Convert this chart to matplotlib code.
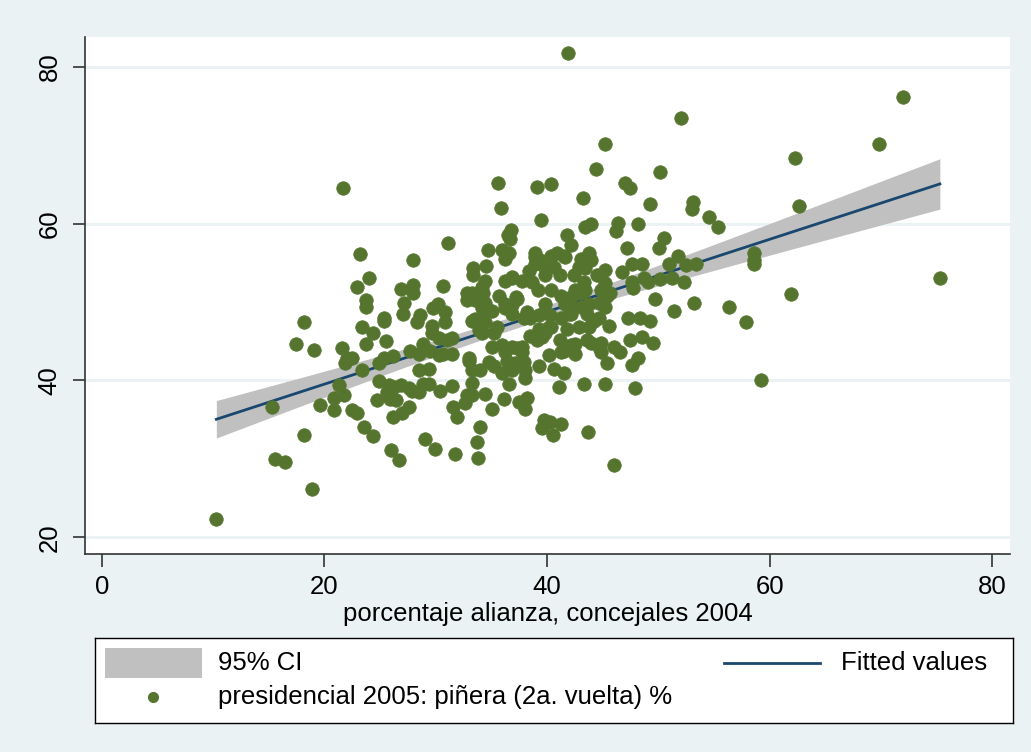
import numpy as np
import matplotlib
matplotlib.use("Agg")
import matplotlib.pyplot as plt
from matplotlib.patches import Rectangle

plt.rcParams['font.family'] = ['Liberation Sans', 'DejaVu Sans']

# porcentaje alianza, concejales 2004 (x) / presidencial 2005 pinera 2a vuelta % (y)
x_outer = [10.3, 15.3, 15.6, 16.5, 18.9, 18.2, 17.5, 18.2, 19.1, 21.7, 19.6, 21.3, 21.8, 20.9,
           20.9, 21.6, 22.0, 21.9, 41.9, 52.0, 72.0, 69.8, 75.3, 62.3, 62.6, 61.9, 59.2, 57.9,
           56.4, 54.6, 55.4, 58.6, 58.6, 58.6, 53.1, 53.0, 53.2]
y_outer = [22.3, 36.6, 30.0, 29.6, 26.2, 33.0, 44.7, 47.4, 43.9, 64.5, 36.9, 39.4, 38.1, 37.7,
           36.2, 44.1, 42.9, 42.2, 81.7, 73.5, 76.1, 70.1, 53.1, 68.4, 62.2, 51.0, 40.1, 47.5,
           49.4, 60.8, 59.5, 56.2, 55.4, 54.9, 62.8, 61.9, 49.9]

x_right = [45.2, 44.4, 50.2, 47.0, 47.5, 49.3, 46.4, 46.2, 48.2, 44.0, 50.5, 50.1, 47.2, 51.8,
           51.0, 53.4, 52.5, 45.2, 47.6, 48.5, 46.7, 44.5, 48.7, 49.1, 50.2, 51.2, 52.3, 47.6,
           47.7, 45.2, 44.9, 45.7, 49.7, 44.7, 51.4, 47.3, 48.4, 49.3, 44.7, 45.6,
           44.0, 44.9, 47.5, 48.5, 49.5, 44.9, 46.0, 46.6, 45.4, 47.6, 48.2, 45.2, 47.9, 43.7, 46.0]
y_right = [70.2, 66.9, 66.6, 65.2, 64.5, 62.5, 60.1, 59.0, 60.0, 60.0, 58.1, 56.9, 56.9, 55.9,
           54.9, 54.8, 54.7, 54.1, 54.9, 54.8, 53.8, 53.4, 53.1, 52.5, 52.9, 53.1, 52.5, 52.5,
           51.8, 52.4, 51.5, 51.2, 50.4, 49.9, 48.8, 47.9, 48.0, 47.6, 48.0, 47.0,
           44.8, 44.8, 45.2, 45.5, 44.8, 43.6, 44.3, 43.6, 42.2, 42.0, 42.8, 39.6, 39.0, 33.4, 29.2]

x_upper = [35.6, 39.1, 40.4, 35.9, 43.2, 39.5, 36.8, 36.5, 36.7, 43.4, 41.8, 42.2, 34.7, 36.0,
           36.6, 36.2, 38.9, 38.9, 40.4, 40.9, 41.6, 43.8, 43.1, 34.5, 40.6, 41.2, 38.4, 43.4,
           33.4, 34.4, 36.9, 36.2, 37.8, 38.7, 39.8, 39.8, 42.4, 43.3, 33.3, 34.2, 34.0, 35.7,
           36.2, 37.2, 39.2, 40.4, 41.3, 42.2, 43.4, 43.1, 39.8, 41.6, 42.2, 43.1, 34.2, 35.1,
           36.2, 38.2, 38.5, 37.9, 40.3, 41.3, 42.2, 43.6, 44.2, 33.5, 34.4, 35.5, 36.9, 39.3,
           40.4, 41.8, 42.9, 43.8]
y_upper = [65.2, 64.6, 65.0, 62.0, 63.3, 60.5, 59.2, 58.6, 58.0, 59.5, 58.5, 57.2, 56.6, 56.6,
           56.3, 55.5, 55.7, 54.9, 55.9, 56.2, 55.7, 56.3, 55.5, 54.6, 54.4, 53.4, 54.0, 54.3,
           53.4, 52.7, 53.1, 52.7, 52.7, 52.5, 54.3, 53.4, 53.4, 52.5, 51.2, 51.9, 50.6, 50.8,
           49.8, 50.6, 51.5, 51.5, 50.8, 50.6, 51.5, 51.1, 49.8, 49.8, 49.3, 49.3, 49.2, 48.9,
           49.2, 48.7, 48.0, 48.0, 48.3, 48.0, 48.5, 48.5, 47.6, 47.8, 47.4, 46.8, 48.5, 46.6,
           46.8, 46.6, 46.8, 46.8]

x_center = [34.3, 34.4, 36.9, 34.3, 39.3, 37.3, 36.9, 39.4, 38.9, 41.5, 42.9, 44.0, 42.5, 42.0,
            43.8, 45.2, 45.4, 41.5, 42.5, 44.7, 39.6, 35.2, 36.9, 37.8, 33.9, 31.5, 30.3, 33.0,
            34.8]
y_center = [51.2, 49.9, 49.6, 47.9, 48.3, 50.4, 53.2, 55.3, 56.2, 55.9, 54.4, 55.3, 51.5, 48.5,
            49.8, 49.3, 50.8, 43.8, 44.7, 44.2, 45.5, 46.0, 44.2, 44.2, 46.4, 45.4, 43.2, 42.8,
            42.3]

x_lower = [34.2, 35.1, 36.0, 36.2, 37.3, 37.8, 38.5, 39.1, 39.8, 40.2, 41.2, 42.2, 42.5, 43.6,
           41.3, 40.6, 41.5, 39.3, 40.2, 35.2, 36.4, 37.1, 37.9, 36.0, 36.9, 38.0, 33.3, 34.0,
           33.3, 36.6, 38.0, 41.1, 43.3, 34.4, 36.1, 35.1, 37.5, 38.2, 38.0, 33.3, 34.0, 33.7,
           33.8, 39.7, 40.3, 41.3, 39.6, 40.5]
y_lower = [46.1, 44.2, 44.5, 43.6, 44.1, 43.6, 45.7, 45.1, 46.1, 46.8, 45.1, 44.5, 43.4, 45.1,
           43.6, 41.5, 41.0, 41.9, 43.2, 41.9, 42.5, 42.2, 42.3, 41.0, 41.3, 41.3, 41.3, 41.3,
           39.7, 39.5, 40.3, 39.1, 39.5, 38.3, 37.6, 36.4, 37.2, 37.7, 36.3, 38.2, 34.0, 32.2,
           30.1, 34.9, 34.7, 34.4, 33.9, 33.1]

x_left = [23.4, 24.4, 25.4, 23.7, 25.5, 22.5, 23.4, 24.9, 25.4, 26.2, 27.7, 28.5, 29.5, 28.9,
          29.7, 30.3, 31.0, 31.5, 30.7, 33.0, 28.5, 29.4, 28.9, 27.9, 28.5, 29.4, 26.3, 26.9,
          27.6, 24.9, 25.8, 25.6, 25.9, 26.4, 24.7, 26.0, 27.6, 27.0, 26.2, 30.4, 31.5, 31.6,
          31.9, 32.6, 32.8, 22.5, 22.9, 23.6, 24.4, 26.0, 26.7, 29.0, 29.9, 31.7,
          23.2, 31.1, 28.0, 24.0, 22.9, 23.7, 23.7, 26.9, 28.0, 28.0, 30.7, 25.4, 27.2, 27.1,
          28.6, 28.3, 29.8, 30.2, 30.8, 30.8, 29.7, 33.4, 32.8, 32.8, 33.5, 33.3]
y_left = [46.8, 46.1, 47.6, 44.7, 45.0, 42.8, 41.3, 42.2, 42.9, 43.1, 43.8, 43.4, 43.8, 44.7,
          46.0, 45.4, 45.1, 43.4, 43.4, 42.5, 41.3, 41.5, 39.5, 38.7, 38.5, 39.5, 39.1, 39.4,
          39.0, 39.9, 39.4, 38.5, 37.6, 37.5, 37.5, 37.8, 36.6, 35.8, 35.3, 38.7, 39.3, 36.6,
          35.3, 37.1, 38.1, 36.2, 35.9, 34.1, 32.9, 31.1, 29.8, 32.5, 31.3, 30.6,
          56.1, 57.5, 55.4, 53.0, 51.9, 50.2, 49.4, 51.6, 52.1, 51.1, 52.0, 47.9, 49.9, 48.5,
          48.3, 47.4, 49.2, 49.7, 48.7, 47.4, 47.0, 54.3, 51.1, 50.2, 50.2, 47.6]

x = np.array(x_outer + x_right + x_upper + x_center + x_lower + x_left)
y = np.array(y_outer + y_right + y_upper + y_center + y_lower + y_left)

# linear fit with 95% CI (like lfitci)
n = len(x)
b, a = np.polyfit(x, y, 1)
resid = y - (a + b * x)
s = np.sqrt(np.sum(resid ** 2) / (n - 2))
xg = np.linspace(x.min(), x.max(), 100)
yg = a + b * xg
se = s * np.sqrt(1.0 / n + (xg - x.mean()) ** 2 / np.sum((x - x.mean()) ** 2))
lo, hi = yg - 1.968 * se, yg + 1.968 * se

BG = '#EAF2F3'
GREEN = '#55752F'
NAVY = '#1A476F'
CI_GREY = '#C0C0C0'

W, H = 1031, 752
fig = plt.figure(figsize=(W / 100, H / 100), dpi=100, facecolor=BG)
ax = fig.add_axes([85 / W, (H - 554) / H, (1010 - 85) / W, (554 - 37) / H])
ax.set_facecolor('white')

ax.fill_between(xg, lo, hi, color=CI_GREY, lw=0, zorder=2)
ax.plot(xg, yg, color=NAVY, lw=2, zorder=3)
ax.scatter(x, y, s=95, color=GREEN, edgecolors=GREEN, linewidths=0.5, zorder=4)

ax.set_xlim(-1.5, 81.6)
ax.set_ylim(17.87, 83.78)
ax.set_xticks([0, 20, 40, 60, 80])
ax.set_yticks([20, 40, 60, 80])
ax.set_yticklabels(['20', '40', '60', '80'], rotation=90, va='center')
ax.yaxis.grid(True, color=BG, lw=2, zorder=0)
ax.set_axisbelow(True)
for side in ['top', 'right']:
    ax.spines[side].set_visible(False)
for side in ['left', 'bottom']:
    ax.spines[side].set_color('#333333')
    ax.spines[side].set_linewidth(1.2)
ax.tick_params(axis='both', direction='out', length=9, width=1.2, color='#333333',
               labelsize=18.5, labelcolor='black')
ax.tick_params(axis='x', pad=6)
ax.tick_params(axis='y', pad=8)
ax.set_xlabel('porcentaje alianza, concejales 2004', fontsize=18.5, labelpad=2)

# legend box
lg = fig.add_axes([95 / W, (H - 723) / H, (1013 - 95) / W, (723 - 638) / H])
lg.set_xlim(95, 1013)
lg.set_ylim(723, 638)
lg.set_xticks([])
lg.set_yticks([])
lg.set_facecolor('white')
for sp in lg.spines.values():
    sp.set_linewidth(1.0)
    sp.set_color('black')
lg.add_patch(Rectangle((105, 648), 97, 30, color=CI_GREY, lw=0))
lg.text(218, 663, '95% CI', fontsize=18.5, va='center', ha='left')
lg.plot([724, 820], [663, 663], color=NAVY, lw=2)
lg.text(987, 663, 'Fitted values', fontsize=18.5, va='center', ha='right')
lg.plot([153], [697], 'o', color=GREEN, ms=7)
lg.text(218, 697, 'presidencial 2005: piñera (2a. vuelta) %', fontsize=18.5, va='center', ha='left')

fig.savefig('out.png', dpi=100, facecolor=BG)
